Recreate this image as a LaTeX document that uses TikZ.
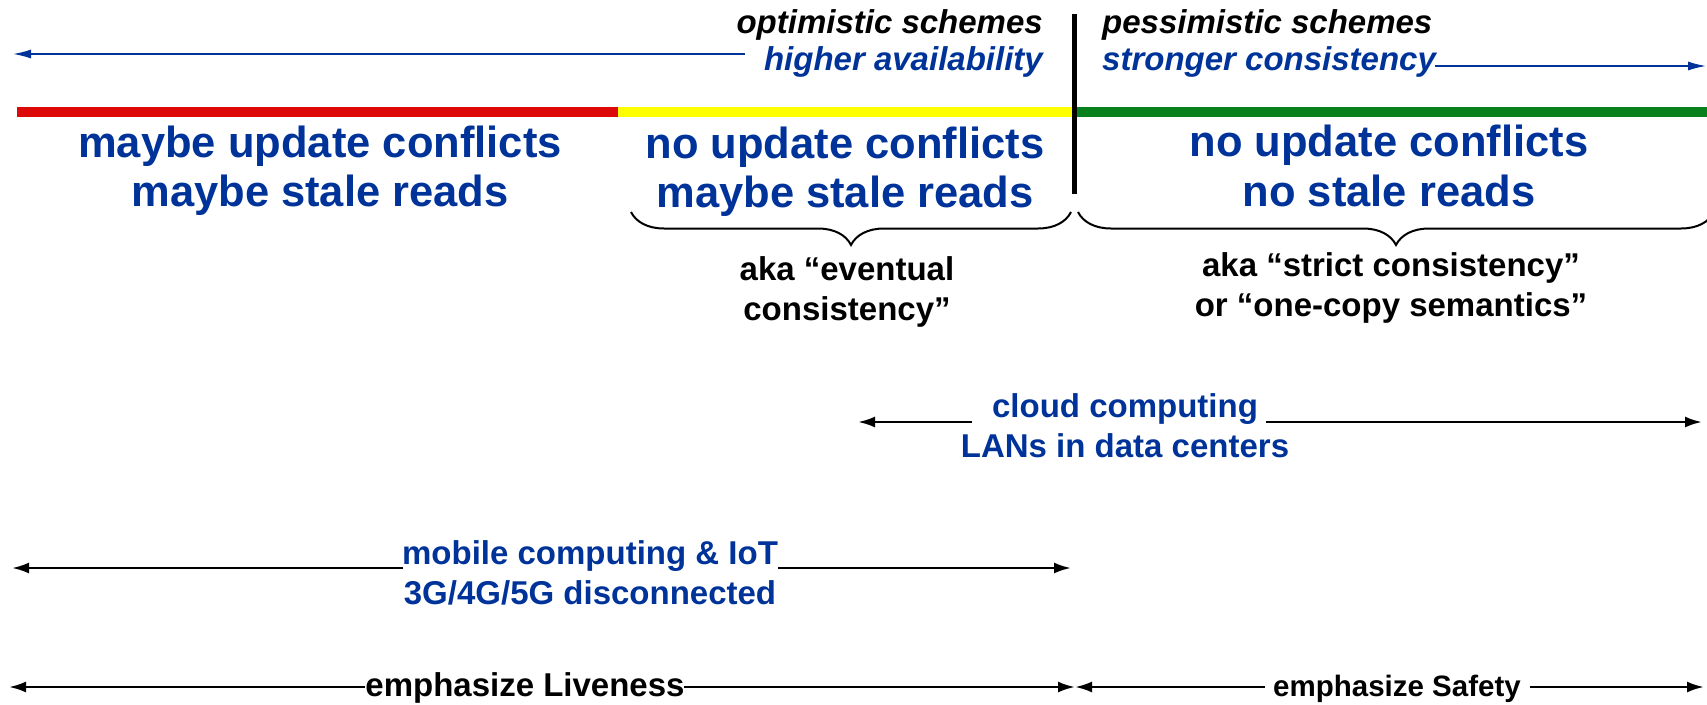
\documentclass[tikz,border=0pt]{standalone}
\usepackage{fontspec}
\setmainfont{Liberation Sans}
\usetikzlibrary{arrows.meta,decorations.pathreplacing}
\definecolor{txtblue}{RGB}{0,51,153}
\definecolor{barred}{RGB}{221,8,8}
\definecolor{baryellow}{RGB}{255,255,0}
\definecolor{bargreen}{RGB}{8,128,28}
\tikzset{
  big/.style={font=\fontsize{43.5}{49.5}\selectfont\bfseries, text=txtblue, align=center, inner sep=0pt},
  small/.style={font=\fontsize{33}{40}\selectfont\bfseries, align=center, inner sep=0pt},
  smaller/.style={font=\fontsize{29.5}{36}\selectfont\bfseries, inner sep=0pt},
  head/.style={font=\fontsize{33}{40}\selectfont\bfseries\itshape, inner sep=0pt},
  bluearrow/.style={draw=txtblue, line width=1.5pt, -{Latex[length=18pt,width=9pt]}},
  blackarrow/.style={draw=black, line width=2.5pt, -{Latex[length=17pt,width=11pt]}},
  bar/.style={line width=10pt},
  bracestyle/.style={decorate, decoration={brace, mirror, amplitude=33pt}, line width=2pt},
}
\begin{document}
\begin{tikzpicture}[x=1pt,y=-1pt]
\useasboundingbox (0,0) rectangle (1707,704);

% scheme headings
\node[head, anchor=base east] (opt) at (1043,33) {optimistic schemes};
\node[head, anchor=base east, text=txtblue] (hav) at (1043,70) {higher availability};
\node[head, anchor=base west] (pes) at (1102,33) {pessimistic schemes};
\node[head, anchor=base west, text=txtblue] (stc) at (1102,70) {stronger consistency};

% direction arrows
\coordinate (optL) at (13,54);
\coordinate (optR) at (745,54);
\draw[bluearrow] (optR) -- (optL);
\coordinate (pesL) at (1435,66);
\coordinate (pesR) at (1706,66);
\draw[bluearrow] (pesL) -- (pesR);

% colour spectrum bar
\draw[bar, barred] (17,112) -- (618,112);
\draw[bar, baryellow] (618,112) -- (1074,112);
\draw[bar, bargreen] (1074,112) -- (1707,112);

% divider
\draw[line width=5pt] (1074,14) -- (1074,194);

% regions
\node[big] (r1) at (320,171) {maybe update conflicts\\maybe stale reads};
\node[big] (r2) at (845,172) {no update conflicts\\maybe stale reads};
\node[big] (r3) at (1389,166) {no update conflicts\\no stale reads};

% braces
\draw[bracestyle] (631,212) -- (1071,212);
\draw[bracestyle] (1078,212) -- (1714,212);

\node[small] (aka1) at (847,292) {aka “eventual\\consistency”};
\node[small] (aka2) at (1391,288) {aka “strict consistency”\\or “one-copy semantics”};

% cloud computing range
\node[small, text=txtblue] (cloud) at (1125,426) {cloud computing\\LANs in data centers};
\coordinate (cA) at (858,422);
\coordinate (cB) at (972,422);
\coordinate (cC) at (1266,422);
\coordinate (cD) at (1702,422);
\draw[blackarrow] (cB) -- (cA);
\draw[blackarrow] (cC) -- (cD);

% mobile computing range
\node[small, text=txtblue] (mobile) at (590,573) {mobile computing \& IoT\\3G/4G/5G disconnected};
\coordinate (mA) at (12,568);
\coordinate (mB) at (403,568);
\coordinate (mC) at (778,568);
\coordinate (mD) at (1071,568);
\draw[blackarrow] (mB) -- (mA);
\draw[blackarrow] (mC) -- (mD);

% liveness / safety
\node[small] (live) at (525,688) {emphasize Liveness};
\node[smaller] (safe) at (1397,689) {emphasize Safety};
\coordinate (lA) at (9,687);
\coordinate (lB) at (365,687);
\coordinate (lC) at (684,687);
\coordinate (lD) at (1075,687);
\draw[blackarrow] (lB) -- (lA);
\draw[blackarrow] (lC) -- (lD);
\coordinate (sA) at (1075,687);
\coordinate (sB) at (1265,687);
\coordinate (sC) at (1530,687);
\coordinate (sD) at (1704,687);
\draw[blackarrow] (sB) -- (sA);
\draw[blackarrow] (sC) -- (sD);
\end{tikzpicture}
\end{document}
